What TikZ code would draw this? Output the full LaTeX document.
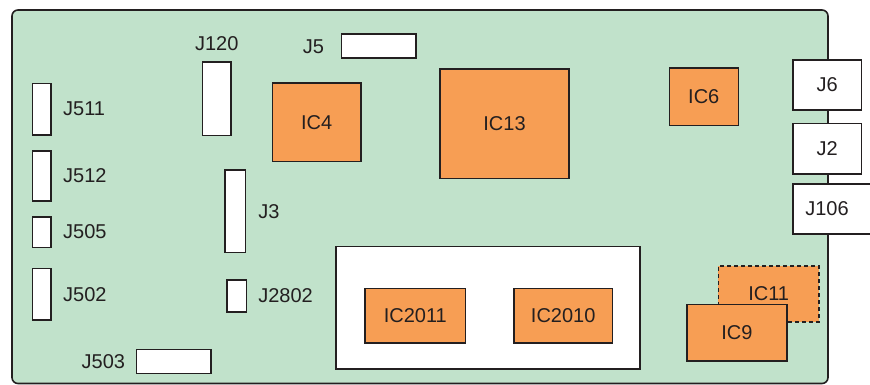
\documentclass[tikz,border=0pt]{standalone}
\usepackage{fontspec}
\setmainfont{Liberation Sans}
\usetikzlibrary{positioning}
\definecolor{pcbG}{RGB}{193,226,203}
\definecolor{chipO}{RGB}{247,158,84}
\definecolor{inkD}{RGB}{35,31,32}

\begin{document}
\begin{tikzpicture}[
  x=1pt, y=-1pt,
  line width=1.6pt,
  box/.style={draw=inkD, inner sep=0pt, text=inkD, font=\fontsize{20}{23}\selectfont},
  conn/.style={box, fill=white},
  chip/.style={box, fill=chipO},
  lbl/.style={inner sep=0pt, text=inkD, font=\fontsize{20}{23}\selectfont}
]
\clip (0,0) rectangle (870,385);

% board outline
\draw[draw=inkD, fill=pcbG, rounded corners=6pt] (12,10) rectangle (828,383.5);

% shielded area
\node[conn, minimum width=303.7pt, minimum height=122.5pt] (shield) at (488,307.6) {};

% chips
\node[chip, minimum width=88.7pt, minimum height=78.3pt] (ic4) at (316.7,122.2) {IC4};
\node[chip, minimum width=129pt, minimum height=109pt] (ic13) at (504.5,123.8) {IC13};
\node[chip, minimum width=69pt, minimum height=57.4pt] (ic6) at (703.8,97) {IC6};
\node[chip, minimum width=100.7pt, minimum height=54.4pt] (ic2011) at (415.3,315.5) {IC2011};
\node[chip, minimum width=98.4pt, minimum height=54.4pt] (ic2010) at (563.2,315.5) {IC2010};
\node[chip, dash pattern=on 4pt off 3pt, minimum width=100.6pt, minimum height=56.5pt] (ic11) at (768.7,294) {IC11};
\node[chip, minimum width=100.3pt, minimum height=56.5pt] (ic9) at (736.9,332.6) {IC9};

% connectors on the left
\node[conn, minimum width=18.7pt, minimum height=51.7pt] (j511) at (41.7,109.2) {};
\node[conn, minimum width=18.7pt, minimum height=50pt] (j512) at (41.7,176) {};
\node[conn, minimum width=18.7pt, minimum height=30.6pt] (j505) at (41.7,232) {};
\node[conn, minimum width=18.7pt, minimum height=51.3pt] (j502) at (41.7,294.3) {};
\node[conn, minimum width=74.4pt, minimum height=24pt] (j503) at (173.5,361.3) {};
\node[lbl, right=10.5pt of j511] {J511};
\node[lbl, right=10.5pt of j512] {J512};
\node[lbl, right=10.5pt of j505] {J505};
\node[lbl, right=10.5pt of j502] {J502};
\node[lbl, left=9.6pt of j503] {J503};

% connectors in the middle
\node[conn, minimum width=28.7pt, minimum height=73.4pt] (j120) at (216.7,99) {};
\node[conn, minimum width=20.7pt, minimum height=82.7pt] (j3) at (235.3,211.3) {};
\node[conn, minimum width=19.6pt, minimum height=32pt] (j2802) at (236.5,296) {};
\node[conn, minimum width=74.3pt, minimum height=24pt] (j5) at (378.8,46.3) {};
\node[lbl, above=10pt of j120] {J120};
\node[lbl, right=11pt of j3] {J3};
\node[lbl, right=10.4pt of j2802] {J2802};
\node[lbl, left=16pt of j5] {J5};

% edge connectors
\node[conn, minimum width=68.7pt, minimum height=50pt] (j6) at (827.3,85) {J6};
\node[conn, minimum width=68.7pt, minimum height=50pt] (j2) at (827.3,148.7) {J2};
\node[conn, minimum width=79pt, minimum height=50pt,
      label={[lbl, xshift=-5.5pt]center:J106}] (j106) at (832.5,208.7) {};

\end{tikzpicture}
\end{document}
